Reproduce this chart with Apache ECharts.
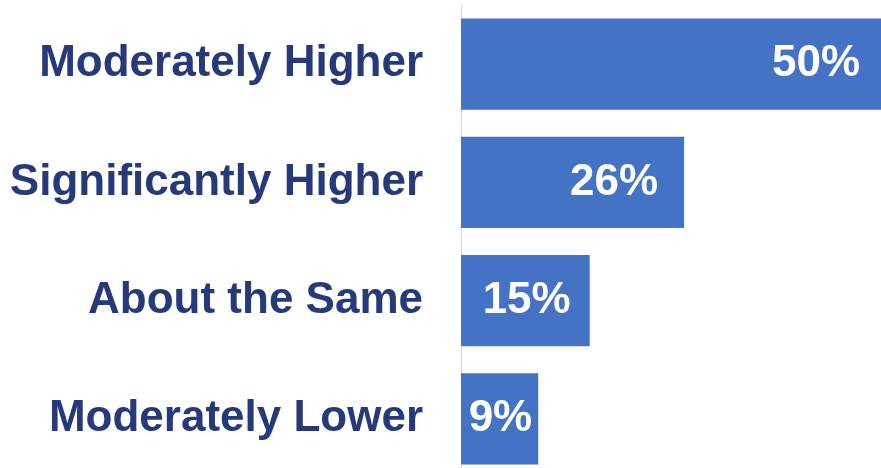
<!DOCTYPE html>
<html>
<head>
<meta charset="utf-8">
<style>
  html, body { margin: 0; padding: 0; background: #ffffff; overflow: hidden; }
  #chart { width: 890px; height: 478px; }
</style>
<script src="https://cdn.jsdelivr.net/npm/echarts@6/dist/echarts.min.js"></script>
</head>
<body>
<div id="chart"></div>
<script>
// Response categories, top to bottom
const categories = ['Moderately Higher', 'Significantly Higher', 'About the Same', 'Moderately Lower'];
// Share of respondents (%)
const shares = [50, 26, 15, 9];
// Gap between each value label and the end of its bar (px)
const labelInsets = [30, 26, 19, 6];

const FONT = 'Liberation Sans';

const chart = echarts.init(document.getElementById('chart'), null, { renderer: 'canvas' });

chart.setOption({
  animation: false,
  grid: { left: 461, right: 0, top: 5, bottom: 0, containLabel: false },
  xAxis: {
    type: 'value',
    min: 0,
    max: 50,
    show: false
  },
  yAxis: {
    type: 'category',
    data: categories,
    inverse: true,
    axisLine: { show: true, lineStyle: { color: '#d9d9d9', width: 1 } },
    axisTick: { show: false },
    axisLabel: {
      color: '#263a7b',
      fontFamily: FONT,
      fontWeight: 'bold',
      fontSize: 44,
      margin: 38
    }
  },
  series: [{
    type: 'bar',
    barCategoryGap: '23%',
    itemStyle: { color: '#4472c4' },
    data: shares.map((v, i) => ({
      value: v,
      label: { distance: labelInsets[i] }
    })),
    label: {
      show: true,
      position: 'insideRight',
      color: '#ffffff',
      fontFamily: FONT,
      fontWeight: 'bold',
      fontSize: 44,
      formatter: p => p.value + '%'
    }
  }]
});
</script>
</body>
</html>
